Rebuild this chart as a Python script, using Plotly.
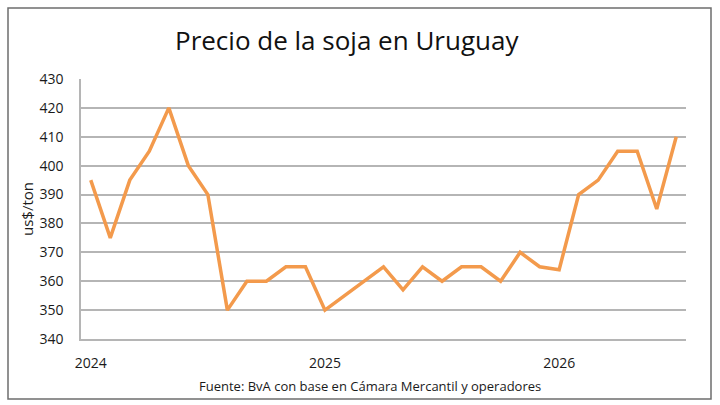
import plotly.graph_objects as go

# ---- data ----
months = [
    "2024-01", "2024-02", "2024-03", "2024-04", "2024-05", "2024-06",
    "2024-07", "2024-08", "2024-09", "2024-10", "2024-11", "2024-12",
    "2025-01", "2025-02", "2025-03", "2025-04", "2025-05", "2025-06",
    "2025-07", "2025-08", "2025-09", "2025-10", "2025-11", "2025-12",
    "2026-01", "2026-02", "2026-03", "2026-04", "2026-05", "2026-06",
    "2026-07",
]
precio = [
    395, 375, 395, 405, 420, 400, 390, 350, 360, 360, 365, 365,
    350, 355, 360, 365, 357, 365, 360, 365, 365, 360, 370, 365,
    364, 390, 395, 405, 405, 385, 410,
]
year_ticks = ["2024-01", "2025-01", "2026-01"]
year_labels = ["2024", "2025", "2026"]
y_ticks = [340, 350, 360, 370, 380, 390, 400, 410, 420, 430]

title = "Precio de la soja en Uruguay"
y_title = "us$/ton"
source = "Fuente: BvA con base en Cámara Mercantil y operadores"

# ---- layout geometry (pixels) ----
W, H = 720, 405
L, R, T, B = 81, 686, 79, 339
pw, ph = R - L, B - T


def px(x):
    return (x - L) / pw


def py(y):
    return (B - y) / ph


FONT = "Open Sans"

fig = go.Figure()
fig.add_trace(go.Scatter(
    x=months, y=precio, mode="lines",
    line=dict(color="#F39A4C", width=3.5),
    hoverinfo="x+y", showlegend=False,
))

fig.update_layout(
    width=W, height=H,
    margin=dict(l=L, r=W - R, t=T, b=H - B, pad=0),
    paper_bgcolor="white", plot_bgcolor="white",
    font=dict(family=FONT, color="#1a1a1a", size=14),
    xaxis=dict(
        type="category", range=[-0.5, len(months) - 0.5],
        tickmode="array", tickvals=year_ticks, ticktext=year_labels,
        showgrid=False, zeroline=False,
        showline=True, linecolor="#B5B5B5", linewidth=1.5,
        ticks="outside", ticklen=10, tickcolor="rgba(0,0,0,0)",
        tickfont=dict(family=FONT, size=14, color="#1a1a1a"),
    ),
    yaxis=dict(
        range=[340, 430], tickmode="array", tickvals=y_ticks,
        showgrid=True, gridcolor="#B5B5B5", gridwidth=1.5,
        zeroline=False,
        showline=True, linecolor="#B5B5B5", linewidth=1.5,
        ticks="outside", ticklen=13, tickcolor="rgba(0,0,0,0)",
        tickfont=dict(family=FONT, size=14, color="#1a1a1a"),
    ),
)

fig.add_annotation(
    text=title, xref="paper", yref="paper", x=px(347), y=py(40),
    showarrow=False, xanchor="center", yanchor="middle",
    font=dict(family=FONT, size=26, color="#111111"),
)
fig.add_annotation(
    text=y_title, xref="paper", yref="paper", x=px(27), y=py(209),
    showarrow=False, textangle=-90, xanchor="center", yanchor="middle",
    font=dict(family=FONT, size=15, color="#1a1a1a"),
)
fig.add_annotation(
    text=source, xref="paper", yref="paper", x=px(370), y=py(386),
    showarrow=False, xanchor="center", yanchor="middle",
    font=dict(family=FONT, size=13, color="#1a1a1a"),
)

fig.add_shape(
    type="rect", xref="paper", yref="paper",
    x0=px(8), x1=px(711), y0=py(399), y1=py(8),
    line=dict(color="#6E6E6E", width=1.5), fillcolor="rgba(0,0,0,0)",
    layer="below",
)

fig.write_html("out.html")
